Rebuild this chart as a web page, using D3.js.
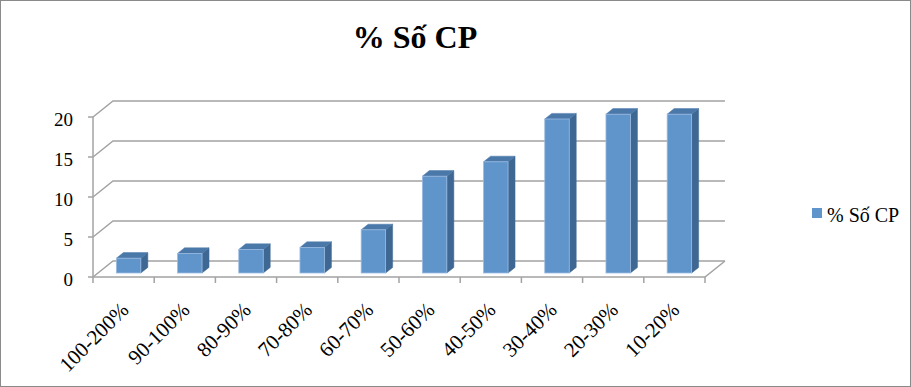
<!DOCTYPE html>
<html>
<head>
<meta charset="utf-8">
<script src="https://cdn.jsdelivr.net/npm/d3@7"></script>
<style>
  body { margin: 0; background: #fff; }
  text { font-family: "Liberation Serif", "DejaVu Serif", serif; fill: #000; }
</style>
</head>
<body>
<div id="chart"></div>
<script>
// data
var categories = ["100-200%", "90-100%", "80-90%", "70-80%", "60-70%",
  "50-60%", "40-50%", "30-40%", "20-30%", "10-20%"];
var values = [1.85, 2.45, 2.95, 3.2, 5.4, 12.1, 13.9, 19.25, 19.85, 19.85];
var yTicks = [0, 5, 10, 15, 20];
var seriesName = "% Số CP";

var svgWidth = 911;
var svgHeight = 387;

var svg = d3.select("#chart")
  .append("svg")
  .attr("width", svgWidth)
  .attr("height", svgHeight);

// outer border
svg.append("rect")
  .attr("x", 0.5).attr("y", 0.5)
  .attr("width", svgWidth - 1).attr("height", svgHeight - 1)
  .attr("fill", "#fff")
  .attr("stroke", "#8a8a8a");

// front plane of the 3d box
var x = d3.scaleBand().domain(categories).range([93, 705]);
var y = d3.scaleLinear().domain([0, 20]).range([277, 117]);

// depth offset for the oblique projection
var depthX = 20, depthY = -16;
function off(d) { return [depthX * d, depthY * d]; }

var grid = svg.append("g")
  .attr("fill", "none")
  .attr("stroke", "#a3a3a3")
  .attr("stroke-width", 1.5);

// gridlines: side wall diagonal + back wall line
yTicks.forEach(function(t) {
  var yy = y(t);
  grid.append("path")
    .attr("d", "M" + x.range()[0] + "," + yy +
      " L" + (x.range()[0] + depthX) + "," + (yy + depthY) +
      " L" + (x.range()[1] + depthX) + "," + (yy + depthY));
  // small tick on the left
  grid.append("line")
    .attr("x1", x.range()[0] - 5).attr("x2", x.range()[0])
    .attr("y1", yy).attr("y2", yy);
});

// left vertical axis edge
grid.append("line")
  .attr("x1", x.range()[0]).attr("x2", x.range()[0])
  .attr("y1", y(0)).attr("y2", y(20));

// floor front edge and right side
grid.append("path")
  .attr("d", "M" + x.range()[0] + "," + y(0) +
    " L" + x.range()[1] + "," + y(0) +
    " L" + (x.range()[1] + depthX) + "," + (y(0) + depthY));

// category ticks
categories.concat([null]).forEach(function(c, i) {
  var xx = x.range()[0] + i * x.step();
  grid.append("line")
    .attr("x1", xx).attr("x2", xx)
    .attr("y1", y(0)).attr("y2", y(0) + 6);
});

// y labels
svg.append("g").selectAll("text")
  .data(yTicks)
  .enter()
  .append("text")
  .attr("x", 73)
  .attr("y", d => y(d) + 2)
  .attr("dy", "0.35em")
  .attr("text-anchor", "end")
  .style("font-size", "19px")
  .text(d => d);

// bars
var d0 = 0.25, d1 = 0.6;
var barW = x.bandwidth() * 0.4;
var bars = svg.append("g").selectAll("g")
  .data(categories.map((c, i) => ({ cat: c, val: values[i] })))
  .enter()
  .append("g");

function pt(px, py) { return px + "," + py; }

bars.each(function(d) {
  var g = d3.select(this);
  var o0 = off(d0), o1 = off(d1);
  var left = x(d.cat) + (x.bandwidth() - barW) / 2 + o0[0];
  var right = left + barW;
  var top = y(d.val) + o0[1];
  var bottom = y(0) + o0[1];
  var dx = o1[0] - o0[0], dy = o1[1] - o0[1];

  // side face
  g.append("polygon")
    .attr("points", [pt(right, top), pt(right + dx, top + dy),
      pt(right + dx, bottom + dy), pt(right, bottom)].join(" "))
    .attr("fill", "#3e6893")
    .attr("stroke", "#3e6893")
    .attr("stroke-width", 0.5);
  // top face
  g.append("polygon")
    .attr("points", [pt(left, top), pt(left + dx, top + dy),
      pt(right + dx, top + dy), pt(right, top)].join(" "))
    .attr("fill", "#4a78a9")
    .attr("stroke", "#4a78a9")
    .attr("stroke-width", 0.5);
  // front face
  g.append("rect")
    .attr("x", left).attr("y", top)
    .attr("width", barW).attr("height", bottom - top)
    .attr("fill", "#5f95cb")
    .attr("stroke", "#9bbbe0")
    .attr("stroke-width", 0.8);
});

// x labels, rotated
svg.append("g").selectAll("text")
  .data(categories)
  .enter()
  .append("text")
  .attr("transform", d => "translate(" + (x(d) + x.bandwidth() / 2 + 1) + ",306) rotate(-45)")
  .attr("text-anchor", "end")
  .attr("dy", "0.35em")
  .style("font-size", "21px")
  .text(d => d);

// title
svg.append("text")
  .attr("x", 415)
  .attr("y", 48)
  .attr("text-anchor", "middle")
  .style("font-size", "32px")
  .style("font-weight", "bold")
  .text(seriesName);

// legend
var legend = svg.append("g");
legend.append("rect")
  .attr("x", 812).attr("y", 208)
  .attr("width", 10).attr("height", 10)
  .attr("fill", "#5f95cb");
legend.append("text")
  .attr("x", 827)
  .attr("y", 222)
  .style("font-size", "20px")
  .text(seriesName);
</script>
</body>
</html>
